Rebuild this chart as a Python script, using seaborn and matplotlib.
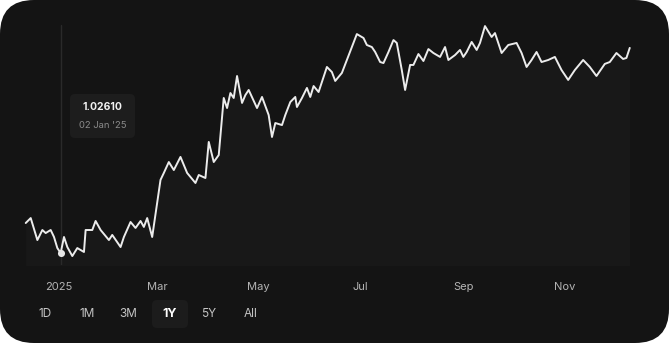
import numpy as np
import pandas as pd
import matplotlib
matplotlib.use("Agg")
import matplotlib.pyplot as plt
import matplotlib.dates as mdates
from matplotlib.patches import FancyBboxPatch
import seaborn as sns

# ---- data -------------------------------------------------------------
dates = [
    "2024-12-12", "2024-12-15", "2024-12-19", "2024-12-22", "2024-12-24", "2024-12-27",
    "2024-12-29", "2024-12-31", "2025-01-02", "2025-01-04", "2025-01-06", "2025-01-09",
    "2025-01-12", "2025-01-16", "2025-01-17", "2025-01-21", "2025-01-23", "2025-01-26",
    "2025-01-31", "2025-02-02", "2025-02-07", "2025-02-09", "2025-02-13", "2025-02-16",
    "2025-02-19", "2025-02-21", "2025-02-23", "2025-02-26", "2025-03-03", "2025-03-05",
    "2025-03-08", "2025-03-11", "2025-03-15", "2025-03-19", "2025-03-24", "2025-03-26",
    "2025-03-30", "2025-04-01", "2025-04-04", "2025-04-07", "2025-04-10", "2025-04-12",
    "2025-04-14", "2025-04-16", "2025-04-18", "2025-04-21", "2025-04-23", "2025-04-25",
    "2025-04-30", "2025-05-03", "2025-05-07", "2025-05-09", "2025-05-11", "2025-05-15",
    "2025-05-17", "2025-05-20", "2025-05-23", "2025-05-24", "2025-05-27", "2025-05-30",
    "2025-06-01", "2025-06-03", "2025-06-06", "2025-06-11", "2025-06-14", "2025-06-16",
    "2025-06-20", "2025-06-26", "2025-06-29", "2025-07-03", "2025-07-05", "2025-07-08",
    "2025-07-10", "2025-07-13", "2025-07-15", "2025-07-18", "2025-07-21", "2025-07-23",
    "2025-07-26", "2025-07-28", "2025-07-31", "2025-08-02", "2025-08-05", "2025-08-08",
    "2025-08-11", "2025-08-14", "2025-08-18", "2025-08-21", "2025-08-23", "2025-08-27",
    "2025-08-30", "2025-09-01", "2025-09-03", "2025-09-06", "2025-09-09", "2025-09-11",
    "2025-09-14", "2025-09-18", "2025-09-20", "2025-09-24", "2025-09-28", "2025-10-03",
    "2025-10-06", "2025-10-09", "2025-10-12", "2025-10-15", "2025-10-18", "2025-10-22",
    "2025-10-26", "2025-10-30", "2025-11-03", "2025-11-07", "2025-11-12", "2025-11-16",
    "2025-11-20", "2025-11-25", "2025-11-28", "2025-12-02", "2025-12-06", "2025-12-08",
    "2025-12-10",
]
values = [
    1.0467, 1.0501, 1.0350, 1.0419, 1.0398, 1.0419,
    1.0371, 1.0295, 1.0261, 1.0371, 1.0302, 1.0240,
    1.0295, 1.0268, 1.0419, 1.0419, 1.0481, 1.0419,
    1.0350, 1.0385, 1.0302, 1.0371, 1.0474, 1.0433,
    1.0481, 1.0440, 1.0501, 1.0371, 1.0763, 1.0811,
    1.0886, 1.0831, 1.0921, 1.0811, 1.0742, 1.0797,
    1.0776, 1.1024, 1.0886, 1.0934, 1.1326, 1.1257,
    1.1360, 1.1326, 1.1477, 1.1292, 1.1346, 1.1381,
    1.1257, 1.1333, 1.1209, 1.1058, 1.1154, 1.1140,
    1.1209, 1.1298, 1.1333, 1.1264, 1.1326, 1.1395,
    1.1333, 1.1408, 1.1367, 1.1539, 1.1504, 1.1443,
    1.1498, 1.1676, 1.1765, 1.1738, 1.1690, 1.1676,
    1.1642, 1.1573, 1.1566, 1.1642, 1.1724, 1.1704,
    1.1518, 1.1381, 1.1553, 1.1553, 1.1628, 1.1580,
    1.1662, 1.1635, 1.1608, 1.1676, 1.1587, 1.1621,
    1.1656, 1.1608, 1.1642, 1.1711, 1.1656, 1.1704,
    1.1820, 1.1745, 1.1772, 1.1635, 1.1690, 1.1704,
    1.1635, 1.1539, 1.1587, 1.1642, 1.1573, 1.1587,
    1.1608, 1.1518, 1.1450, 1.1518, 1.1587, 1.1539,
    1.1477, 1.1560, 1.1573, 1.1635, 1.1594, 1.1601,
    1.1670,
]
tick_dates = ["2025-01-01", "2025-03-01", "2025-05-01", "2025-07-01", "2025-09-01", "2025-11-01"]
tick_labels = ["2025", "Mar", "May", "Jul", "Sep", "Nov"]
hover_date = "2025-01-02"
hover_value = 1.02610
hover_label = "02 Jan '25"
range_buttons = ["1D", "1M", "3M", "1Y", "5Y", "All"]
active_button = "1Y"

df = pd.DataFrame({"date": pd.to_datetime(dates), "value": values})

# ---- figure -----------------------------------------------------------
W, H = 669, 343
sns.set_theme(style="dark")
plt.rcParams["font.family"] = ["Inter", "DejaVu Sans"]

fig = plt.figure(figsize=(W / 100, H / 100), dpi=100)
fig.patch.set_facecolor("white")

# background overlay in pixel coordinates
bg = fig.add_axes([0, 0, 1, 1], zorder=0)
bg.set_xlim(0, W)
bg.set_ylim(H, 0)
bg.axis("off")
bg.add_patch(FancyBboxPatch((0, 0), W, H, boxstyle="round,pad=0,rounding_size=34",
                            facecolor="#141414", edgecolor="none"))

# main chart axes: pixel extent
px_left, px_right = 20, 645
px_top, px_bottom = 15, 265
ax = fig.add_axes([px_left / W, 1 - px_bottom / H,
                   (px_right - px_left) / W, (px_bottom - px_top) / H], zorder=1)
ax.set_facecolor("none")

# x mapping: Jan 1 2025 -> pixel 59, 1.664 px/day
jan1 = pd.Timestamp("2025-01-01")
ppd = 1.664
x0 = jan1 + pd.Timedelta(days=(px_left - 59) / ppd)
x1 = jan1 + pd.Timedelta(days=(px_right - 59) / ppd)
# y mapping
k = 0.000687
y_hi = hover_value + (253 - px_top) * k
y_lo = hover_value + (253 - px_bottom) * k

# subtle fill under the line
ax.fill_between(df["date"], df["value"], y_lo - 0.05, color="white", alpha=0.018, linewidth=0)

# hover vertical line
ax.axvline(pd.Timestamp(hover_date), ymin=-0.03, ymax=0.96, color="#2a2a2a", linewidth=1.0, zorder=1)

sns.lineplot(data=df, x="date", y="value", ax=ax, color="#ececec", linewidth=1.4, zorder=3)

ax.scatter([pd.Timestamp(hover_date)], [hover_value], s=26, color="#e8e8e8", zorder=4,
           linewidths=0)

ax.set_xlim(x0, x1)
ax.set_ylim(y_lo, y_hi)
ax.set_xticks(pd.to_datetime(tick_dates))
ax.set_xticklabels(tick_labels)
ax.set_yticks([])
ax.tick_params(axis="x", length=0, pad=12, colors="#b4b4b4", labelsize=8)
ax.set_xlabel("")
ax.set_ylabel("")
ax.grid(False)
for s in ax.spines.values():
    s.set_visible(False)

# tooltip box (pixel coords on overlay)
tip = fig.add_axes([0, 0, 1, 1], zorder=2)
tip.set_xlim(0, W)
tip.set_ylim(H, 0)
tip.axis("off")
tip.add_patch(FancyBboxPatch((70, 94), 65, 44, boxstyle="round,pad=0,rounding_size=5",
                             facecolor="#1d1d1d", edgecolor="none"))
tip.text(102.5, 107, f"{hover_value:.5f}", color="#f2f2f2", fontsize=7.5, fontweight="bold",
         ha="center", va="center")
tip.text(102.5, 125, hover_label, color="#8a8a8a", fontsize=6.8, ha="center", va="center")

# range buttons
btn_x = [45, 87, 128, 170, 209, 251]
for lab, bx in zip(range_buttons, btn_x):
    if lab == active_button:
        tip.add_patch(FancyBboxPatch((152, 300), 36, 28, boxstyle="round,pad=0,rounding_size=5",
                                     facecolor="#1c1c1c", edgecolor="none"))
        tip.text(bx, 314, lab, color="#ffffff", fontsize=9, fontweight="bold",
                 ha="center", va="center")
    else:
        tip.text(bx, 314, lab, color="#c4c4c4", fontsize=8.5, ha="center", va="center")

fig.savefig("out.png", dpi=100, facecolor=fig.get_facecolor())
